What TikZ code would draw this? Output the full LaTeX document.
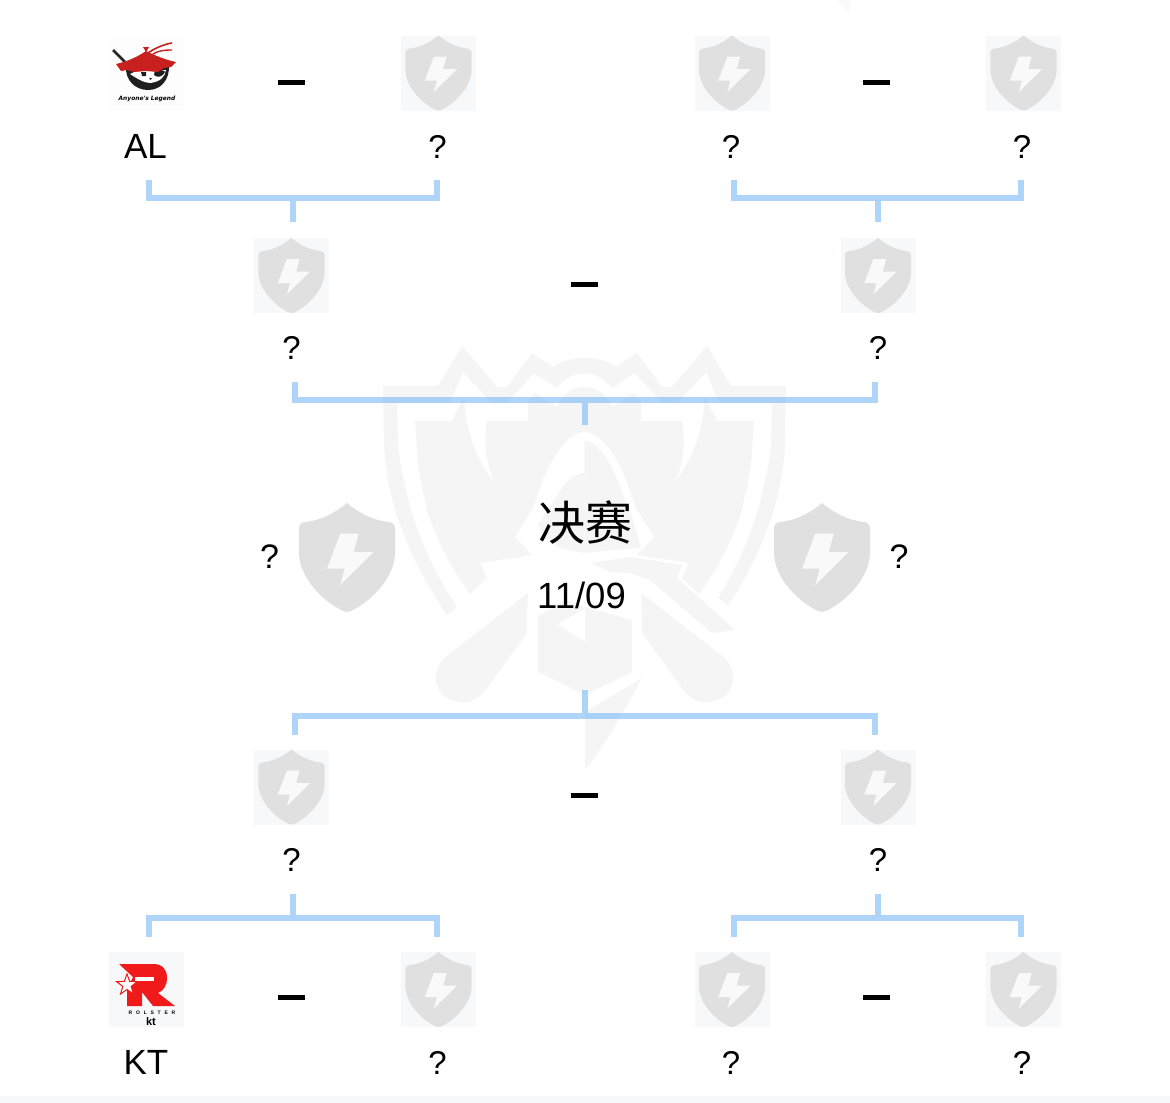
\documentclass[tikz,border=0pt]{standalone}
\usepackage{fontspec}
\setmainfont{Liberation Sans}
\newfontfamily\cjkfont{Noto Sans CJK SC}
\newfontfamily\logofont{DejaVu Sans}
\definecolor{wm}{HTML}{F5F5F5}
\definecolor{tilebg}{HTML}{F7F8FA}
\definecolor{shieldgrey}{HTML}{E1E0E1}
\definecolor{boltgrey}{HTML}{F9F9FA}
\definecolor{linkblue}{HTML}{5EADF5}
\definecolor{alred}{HTML}{C8201E}
\definecolor{ktred}{HTML}{F01A1A}
\newcommand{\wmhalf}{%
  % crown and outer band
  \fill[wm] (584.5,358) .. controls (572,358) and (562,361) .. (553,367) -- (532,353) -- (507,387) -- (497,387) -- (462,346) -- (438,386) -- (383,386)
    -- (384,445) .. controls (387,505) and (410,560) .. (447,615) -- (457,607)
    .. controls (425,560) and (405,505) .. (398,445) -- (397,403) -- (450,403) -- (463,372) -- (492,403) -- (507,403) -- (534,373) -- (557,388)
    .. controls (565,378) and (575,373) .. (584.5,373) -- cycle;
  % inner shield
  \fill[wm] (415,421) -- (452,421) -- (464,396) .. controls (466,435) and (478,462) .. (495,483)
    .. controls (484,460) and (484,440) .. (487,421) -- (528,421) -- (528,403) -- (535,393) -- (557,407)
    .. controls (562,395) and (572,387) .. (584.5,387) -- (584.5,432) .. controls (570,432) and (555,450) .. (542,482)
    -- (533,508) -- (515,537) -- (532,555) -- (480,563) -- (487,578) -- (470,594)
    .. controls (445,560) and (428,520) .. (425,500) .. controls (420,480) and (417,460) .. (417,448) -- cycle;
  % handle
  \fill[wm] (528,593) -- (448,655) .. controls (430,668) and (432,696) .. (455,701) .. controls (470,705) and (480,698) .. (487,688) -- (527,633) -- (527,612) -- cycle;
}
\tikzset{
  x=1pt,y=-1pt,
  shieldpic/.pic={
    \fill[shieldgrey] (0,-54.5) .. controls (-11,-45) and (-26,-37) .. (-42,-35.5) .. controls (-46,-35) and (-48,-33) .. (-48,-28)
      -- (-48,-5) .. controls (-48,20) and (-24,44) .. (-4,53.5) .. controls (-1.5,54.7) and (1.5,54.7) .. (4,53.5)
      .. controls (24,44) and (48,20) .. (48,-5)
      -- (48,-28) .. controls (48,-33) and (46,-35) .. (42,-35.5) .. controls (26,-37) and (11,-45) .. (0,-54.5) -- cycle;
    \fill[boltgrey] (11.7,-23.8) -- (-6.7,-23.8) -- (-20,11.2) -- (-2.3,11.2) -- (-6.7,27.5) -- (26.7,-5.5) -- (6.7,-5.5) -- cycle;
  },
  tile/.style={fill=tilebg,minimum width=75pt,minimum height=75pt,inner sep=0pt,draw=none},
  dashbar/.style={fill=black,minimum width=27pt,minimum height=5pt,inner sep=0pt,draw=none},
  bracketline/.style={draw=linkblue,draw opacity=.5,line width=6pt,line join=miter,line cap=butt},
  lbl/.style={font=\fontsize{33}{33}\selectfont,anchor=base,inner sep=0pt,text=black},
}
\begin{document}
\begin{tikzpicture}
\useasboundingbox (0,0) rectangle (1170,1103);
\fill[white] (0,0) rectangle (1170,1103);
\fill[tilebg] (0,1096) rectangle (1170,1103);
\fill[black!2] (837,0) -- (850,0) -- (850,14) -- cycle;
% watermark
\wmhalf
\begin{scope}[shift={(1169,0)},xscale=-1]\wmhalf\end{scope}
% outer band end on the right is shorter
\fill[white] (718,598) -- (730,607) -- (725,619) -- (706,608) -- cycle;
% hood interior, left and right
\fill[wm] (584.5,473) .. controls (574,473) and (566,482) .. (560,491) -- (538,525) -- (558,548) -- (584.5,553) -- cycle;
\fill[wm] (584.5,440) .. controls (590,441) and (597,446) .. (603,453) .. controls (610,463) and (616,476) .. (620,487) -- (633,520) -- (641,548) -- (612,550) -- (584.5,553) -- cycle;
% pommel
\fill[wm] (538,617) -- (565,600) -- (585,607) -- (632,620) -- (632,672) -- (585,695) -- (538,672) -- cycle;
\fill[white] (557,624) -- (585,642) -- (585,609) -- cycle;
% blade tip
\fill[wm] (642,678) -- (585,712) -- (585,770) .. controls (605,745) and (625,710) .. (642,678) -- cycle;
% right guard stripe
\fill[wm] (592,563) -- (630,557) -- (682,565) -- (677,578) -- (735,630) -- (712,633) -- (650,580) -- (630,573) -- (610,572) -- cycle;

% tiles
\foreach \n/\px/\py in {t2/438.5/73,t3/732/73,t4/1023.5/73,m1/291.5/275.5,m2/878/275.5,n1/291.5/787,n2/878/787,b2/438.5/989.5,b3/732/989.5,b4/1023.5/989.5}{
  \node[tile] (\n) at (\px,\py) {};
  \pic[scale=.69] at (\px,\py) {shieldpic};
}
\node[tile,fill=white!70!tilebg] (t1) at (146.5,73) {};
\node[tile] (b1) at (146.5,989.5) {};
\pic at (347,557.5) {shieldpic};
\pic at (822,557.5) {shieldpic};

% AL logo
\draw[black!85,line width=2.6pt] (113,50) -- (125,62);
\fill[black!88] (126,66) .. controls (125,80) and (135,90) .. (148,90) .. controls (161,90) and (170,80) .. (169,64) -- cycle;
\fill[white] (138,70) -- (166,70) .. controls (165,77) and (160,82) .. (150,83) .. controls (144,83) and (136,78) .. (130,74) -- cycle;
\fill[black!88] (155,70) .. controls (161,69) and (165,71) .. (165,72) .. controls (163,77) and (157,78) .. (154,75) -- cycle;
\fill[black!88] (141,72) -- (146,72) -- (146,76) -- (142,76) -- cycle;
\fill[black!88] (149,78) -- (152,78) -- (150.5,80) -- cycle;
\fill[alred] (146,51) .. controls (156,56) and (166,60) .. (176,62) -- (171,67) -- (164,68) -- (158,72) -- (146,71) -- (134,72) -- (127,70) -- (121,71) -- (116,64) .. controls (125,62) and (136,58) .. (146,51) -- cycle;
\draw[alred,line width=1.6pt] (148,53) .. controls (155,48) and (165,44) .. (172,43);
\draw[alred,line width=1.4pt] (152,55) .. controls (158,50) and (166,50) .. (172,50);
\fill[alred] (143,47) -- (149,47) -- (146,52) -- cycle;
\node[font=\logofont\fontsize{5.9}{6}\selectfont\bfseries\itshape,inner sep=0pt] (allogo) at (147,98.5) {Anyone's Legend};

% KT logo
\fill[ktred] (119,964) -- (153,964) .. controls (163,964) and (167,970) .. (167,978) .. controls (167,986) and (163,991) .. (158,993) -- (175,1006) -- (153,1006) -- (142,992) -- (142,1006) -- (127,1006) -- (127,990) -- (133,977) -- cycle;
\fill[white] (135,977) -- (154,977) -- (154,981) -- (135,981) -- cycle;
\fill[white,draw=ktred,line width=1pt] (127,974) -- (129.6,981.4) -- (137.5,981.6) -- (131.2,986.4) -- (133.5,994) -- (127,989.5) -- (120.5,994) -- (122.8,986.4) -- (116.5,981.6) -- (124.4,981.4) -- cycle;
\node[font=\fontsize{5}{5}\selectfont\bfseries,inner sep=0pt] (ktname) at (152,1012.5) {R\kern3.8pt O\kern3.8pt L\kern3.8pt S\kern3.8pt T\kern3.8pt E\kern3.8pt R};
\node[font=\fontsize{11}{11}\selectfont\bfseries,inner sep=0pt] (ktmark) at (151,1022) {kt};

% dashes
\foreach \n/\px/\py in {d1/291/82,d2/876/82,d3/584.5/284,d4/584.5/795,d5/291/997.5,d6/876/997.5}{
  \node[dashbar] (\n) at (\px,\py) {};
}

% labels
\node[lbl,font=\fontsize{35}{35}\selectfont] (l1) at (145.5,158) {AL};
\foreach \n/\px/\py in {l2/437.5/158,l3/731/158,l4/1022/158,l5/291.5/359,l6/878/359,l7/291.5/871.5,l8/878/871.5,l10/437.5/1074,l11/731/1074,l12/1022/1074}{
  \node[lbl] (\n) at (\px,\py) {?};
}
\node[lbl,font=\fontsize{35}{35}\selectfont] (l9) at (146,1074) {KT};
\node[lbl,font=\fontsize{34}{34}\selectfont] (s1) at (269.5,568) {?};
\node[lbl,font=\fontsize{34}{34}\selectfont] (s2) at (899,568) {?};
\node[inner sep=0pt,font=\cjkfont\fontsize{47}{47}\selectfont] (final) at (585,523) {决赛};
\node[lbl,font=\fontsize{36.5}{36.5}\selectfont] (date) at (581.5,608) {11/09};

% brackets
\coordinate (a1) at (148.5,180); \coordinate (a2) at (437,180); \coordinate (a3) at (293,198); \coordinate (a4) at (293,222);
\draw[bracketline] (a1) |- (a3) -| (a2) (a3) -- (a4);
\coordinate (c1) at (734,180); \coordinate (c2) at (1021,180); \coordinate (c3) at (878,198); \coordinate (c4) at (878,222);
\draw[bracketline] (c1) |- (c3) -| (c2) (c3) -- (c4);
\coordinate (e1) at (295,382); \coordinate (e2) at (875,382); \coordinate (e3) at (585,400); \coordinate (e4) at (585,425);
\draw[bracketline] (e1) |- (e3) -| (e2) (e3) -- (e4);
\coordinate (f1) at (295,735); \coordinate (f2) at (875,735); \coordinate (f3) at (585,716); \coordinate (f4) at (585,690);
\draw[bracketline] (f1) |- (f3) -| (f2) (f3) -- (f4);
\coordinate (g1) at (148.5,937); \coordinate (g2) at (437,937); \coordinate (g3) at (293,918); \coordinate (g4) at (293,894);
\draw[bracketline] (g1) |- (g3) -| (g2) (g3) -- (g4);
\coordinate (h1) at (734,937); \coordinate (h2) at (1021,937); \coordinate (h3) at (878,918); \coordinate (h4) at (878,894);
\draw[bracketline] (h1) |- (h3) -| (h2) (h3) -- (h4);
\end{tikzpicture}
\end{document}
